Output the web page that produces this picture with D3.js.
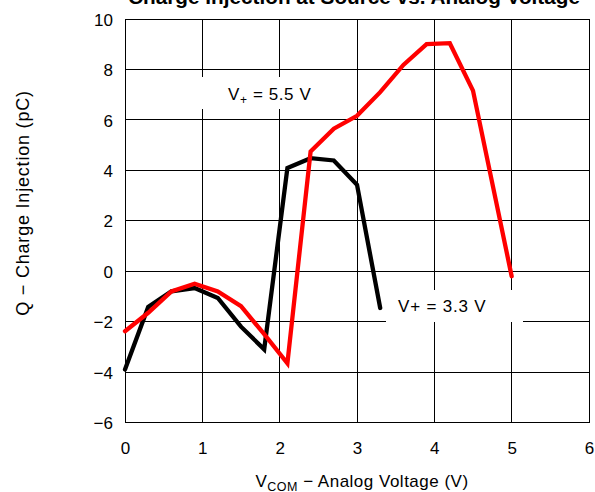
<!DOCTYPE html>
<html><head><meta charset="utf-8">
<script src="https://cdn.jsdelivr.net/npm/d3@7"></script>
<style>body{margin:0;background:#fff}svg{display:block;font-family:"Liberation Sans",Arial,Helvetica,sans-serif}</style>
</head><body><svg id="c" width="595" height="492"></svg>
<script>
const xTicks = [0,1,2,3,4,5,6];
const yTicks = [-6,-4,-2,0,2,4,6,8,10];
const xBlack = [0,0.3,0.6,0.9,1.2,1.5,1.8,2.1,2.4,2.7,3.0,3.3];
const yBlack = [-3.9,-1.42,-0.8,-0.67,-1.06,-2.2,-3.1,4.09,4.48,4.39,3.43,-1.46];
const xRed = [0,0.3,0.6,0.9,1.2,1.5,1.8,2.1,2.4,2.7,3.0,3.3,3.6,3.9,4.2,4.5,5.0];
const yRed = [-2.38,-1.65,-0.8,-0.5,-0.8,-1.39,-2.5,-3.65,4.75,5.65,6.16,7.1,8.18,9.0,9.04,7.16,-0.2];
const title = "Charge Injection at Source vs. Analog Voltage";

const svg = d3.select("#c");
const x = d3.scaleLinear().domain([0,6]).range([125,589]);
const y = d3.scaleLinear().domain([-6,10]).range([422.5,19]);

svg.append("text").attr("x",354).attr("y",4).attr("text-anchor","middle")
  .attr("font-weight","bold").attr("font-size",20).attr("textLength",452)
  .attr("lengthAdjust","spacingAndGlyphs").text(title);

const g = svg.append("g");
g.selectAll(".vg").data(xTicks).join("line").attr("x1",d=>x(d)).attr("x2",d=>x(d))
  .attr("y1",y(-6)).attr("y2",y(10)).attr("stroke","#000").attr("stroke-width",1).attr("shape-rendering","crispEdges");
g.selectAll(".hg").data(yTicks).join("line").attr("y1",d=>y(d)).attr("y2",d=>y(d))
  .attr("x1",x(0)).attr("x2",x(6)).attr("stroke","#000").attr("stroke-width",1).attr("shape-rendering","crispEdges");

const xa = d3.axisBottom(x).tickValues(xTicks).tickSize(0).tickPadding(0).tickFormat(d3.format("d"));
const xg = svg.append("g").attr("transform",`translate(0,${y(-6)})`).call(xa);
xg.select(".domain").remove();
xg.selectAll("text").attr("font-size",17).attr("fill","#000").attr("dy",0).attr("y",31.5)
  .attr("font-family","Liberation Sans, Arial, sans-serif");
const ya = d3.axisLeft(y).tickValues(yTicks).tickSize(0).tickPadding(0).tickFormat(d=>d<0?"\u2212"+Math.abs(d):d);
const yg = svg.append("g").attr("transform",`translate(${x(0)-12},0)`).call(ya);
yg.select(".domain").remove();
yg.selectAll("text").attr("font-size",17).attr("fill","#000").attr("dy","0.36em")
  .attr("font-family","Liberation Sans, Arial, sans-serif");

svg.append("rect").attr("x",198).attr("y",77).attr("width",140).attr("height",32).attr("fill","#fff");
svg.append("rect").attr("x",386).attr("y",290).attr("width",137).attr("height",32).attr("fill","#fff");

const line = d3.line().x(d=>x(d[0])).y(d=>y(d[1]));
svg.append("path").datum(xBlack.map((v,i)=>[v,yBlack[i]])).attr("d",line)
  .attr("fill","none").attr("stroke","#000").attr("stroke-width",4.3).attr("stroke-linejoin","miter").attr("stroke-linecap","round");
svg.append("path").datum(xRed.map((v,i)=>[v,yRed[i]])).attr("d",line)
  .attr("fill","none").attr("stroke","#ff0000").attr("stroke-width",4.3).attr("stroke-linejoin","miter").attr("stroke-linecap","round");

const t1 = svg.append("text").attr("x",228).attr("y",100).attr("font-size",17).attr("letter-spacing",0.6);
t1.append("tspan").text("V");
t1.append("tspan").attr("font-size",12).attr("dy",4).text("+");
t1.append("tspan").attr("dy",-4).text(" = 5.5 V");
svg.append("text").attr("x",398).attr("y",312).attr("font-size",17).attr("letter-spacing",0.8).text("V+ = 3.3 V");

const xt = svg.append("text").attr("x",362).attr("y",487).attr("text-anchor","middle").attr("font-size",17).attr("letter-spacing",0.5);
xt.append("tspan").text("V");
xt.append("tspan").attr("font-size",12.5).attr("dy",4).text("COM");
xt.append("tspan").attr("dy",-4).text(" \u2212 Analog Voltage (V)");
svg.append("text").attr("transform","translate(29,203) rotate(-90)").attr("text-anchor","middle")
  .attr("font-size",18).attr("letter-spacing",0.8).text("Q \u2212 Charge Injection (pC)");
</script></body></html>
